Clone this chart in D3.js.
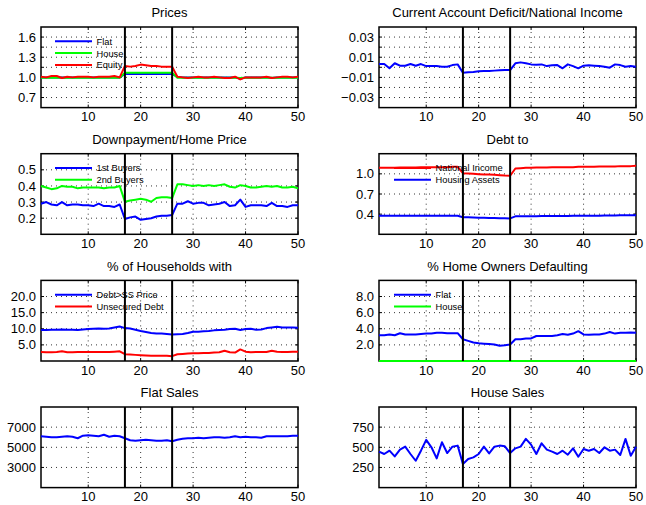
<!DOCTYPE html>
<html><head><meta charset="utf-8">
<script src="https://cdn.jsdelivr.net/npm/d3@7"></script>
<style>body{margin:0;background:#fff}svg{display:block}</style>
</head><body>
<svg id="c" width="646" height="505"></svg>
<script>
// ---------- data ----------
const periods = d3.range(1, 51);
const xTicks = [10, 20, 30, 40, 50];
const shockLines = [17, 26];

const priceFlat = [1.00,1.00,1.00,1.00,1.00,1.00,1.00,1.00,1.00,1.00,1.00,1.00,1.00,1.00,1.00,1.00,
  1.05,1.05,1.05,1.05,1.05,1.05,1.05,1.05,1.05,1.05,
  1.01,1.00,1.00,1.00,1.00,1.00,1.00,1.00,1.00,1.00,1.00,1.00,0.98,1.00,1.00,1.00,1.00,1.00,0.99,1.00,1.00,1.00,1.00,1.00];
const priceHouse = [0.995,0.995,0.995,0.995,0.995,0.995,0.995,0.995,0.995,0.995,0.995,0.995,0.995,0.995,0.995,0.995,
  1.07,1.07,1.07,1.07,1.07,1.07,1.07,1.07,1.07,1.07,
  0.995,0.995,0.995,0.995,0.995,0.995,0.995,0.995,0.995,0.995,0.995,0.995,0.99,0.995,0.995,0.995,0.995,0.995,0.995,0.995,0.995,0.995,0.995,0.995];
const priceEquity = [1.01,1.00,1.02,1.02,0.99,1.01,1.00,1.01,1.01,1.01,1.00,1.01,1.01,1.01,1.02,1.00,
  1.17,1.16,1.17,1.19,1.18,1.17,1.17,1.16,1.16,1.16,
  1.01,1.00,0.99,1.00,1.01,1.00,1.00,1.01,1.00,0.99,0.99,1.01,0.97,1.00,1.00,1.00,1.00,1.01,0.99,1.00,1.01,1.01,1.00,1.01];
const priceTicks = [0.7, 0.85, 1.0, 1.15, 1.3, 1.45, 1.6];
const priceTickLabels = ["0.7", "", "1.0", "", "1.3", "", "1.6"];

const caDeficit = [0.0032,0.0032,-0.0010,0.0040,0.0016,0.0016,0.0032,0.0016,0.0032,0.0012,0.0012,0.0012,0.0006,0.0006,0.0022,0.0029,
  -0.0054,-0.0050,-0.0047,-0.0040,-0.0037,-0.0037,-0.0033,-0.0030,-0.0027,-0.0027,
  0.0040,0.0049,0.0040,0.0029,0.0026,0.0029,0.0012,0.0020,0.0022,-0.0010,0.0029,0.0012,-0.0010,0.0016,0.0020,0.0016,0.0012,0.0006,-0.0004,0.0029,0.0022,0.0006,0.0012,0.0006];
const caTicks = [-0.03, -0.02, -0.01, 0, 0.01, 0.02, 0.03];
const caTickLabels = ["\u22120.03", "", "\u22120.01", "", "0.01", "", "0.03"];

const dpFirst = [0.29,0.30,0.285,0.28,0.30,0.28,0.285,0.285,0.28,0.28,0.275,0.29,0.275,0.275,0.27,0.285,
  0.195,0.205,0.21,0.19,0.195,0.20,0.21,0.215,0.215,0.22,
  0.29,0.29,0.305,0.29,0.295,0.295,0.28,0.285,0.29,0.30,0.275,0.28,0.315,0.27,0.28,0.28,0.28,0.275,0.295,0.275,0.275,0.27,0.28,0.28];
const dpSecond = [0.40,0.39,0.38,0.385,0.40,0.395,0.395,0.385,0.39,0.39,0.39,0.39,0.385,0.39,0.39,0.40,
  0.302,0.31,0.315,0.32,0.315,0.302,0.325,0.33,0.33,0.325,
  0.41,0.41,0.405,0.40,0.405,0.40,0.405,0.40,0.405,0.41,0.395,0.39,0.405,0.40,0.39,0.39,0.395,0.40,0.395,0.40,0.39,0.39,0.395,0.385];
const dpTicks = [0.2, 0.3, 0.4, 0.5];
const dpTickLabels = ["0.2", "0.3", "0.4", "0.5"];

const debtIncome = [1.09,1.09,1.09,1.09,1.095,1.095,1.095,1.095,1.10,1.10,1.10,1.10,1.10,1.10,1.105,1.105,
  1.01,1.005,1.00,0.995,0.99,0.99,0.985,0.98,0.975,0.972,
  1.08,1.085,1.09,1.09,1.095,1.095,1.095,1.10,1.10,1.10,1.10,1.10,1.105,1.105,1.105,1.105,1.11,1.11,1.11,1.11,1.115,1.115,1.115,1.12];
const debtAssets = [0.376,0.376,0.376,0.376,0.376,0.376,0.376,0.376,0.376,0.376,0.376,0.376,0.376,0.376,0.376,0.376,
  0.355,0.352,0.35,0.348,0.346,0.344,0.342,0.34,0.338,0.337,
  0.367,0.368,0.369,0.37,0.37,0.371,0.372,0.372,0.373,0.374,0.374,0.375,0.376,0.376,0.377,0.378,0.378,0.379,0.38,0.381,0.382,0.383,0.384,0.385];
const debtTicks = [0.4, 0.7, 1.0];
const debtTickLabels = ["0.4", "0.7", "1.0"];

const hhDebtSS = [9.6,9.6,9.7,9.7,9.8,9.7,9.7,9.6,9.8,9.9,10.0,10.1,10.0,10.1,10.4,10.7,
  10.2,10.1,9.7,9.3,9.0,8.7,8.5,8.5,8.4,8.2,
  8.3,8.4,8.7,9.1,9.1,9.2,9.3,9.5,9.6,9.7,9.9,10.0,9.6,9.9,10.0,9.7,9.8,10.2,10.4,10.6,10.4,10.4,10.4,10.3];
const hhUnsecured = [2.8,2.7,2.7,2.8,3.0,2.7,2.7,2.8,2.8,2.8,2.8,2.8,2.8,2.8,2.9,3.0,
  2.1,2.0,1.9,1.8,1.7,1.6,1.6,1.6,1.6,1.5,
  2.1,2.2,2.3,2.4,2.4,2.5,2.5,2.6,2.7,3.2,2.7,2.6,3.6,2.9,2.7,2.8,2.8,2.8,3.2,2.9,2.8,2.8,2.9,2.9];
const hhTicks = [5, 10, 15, 20];
const hhTickLabels = ["5.0", "10.0", "15.0", "20.0"];

const defaultFlat = [3.2,3.2,3.3,3.2,3.45,3.3,3.3,3.3,3.35,3.4,3.4,3.5,3.5,3.45,3.45,3.45,
  2.7,2.5,2.3,2.2,2.15,2.1,2.05,1.9,1.95,2.05,
  2.7,2.7,2.8,2.8,3.1,3.1,3.1,3.1,3.2,3.35,3.25,3.4,3.7,3.3,3.25,3.3,3.3,3.4,3.6,3.4,3.5,3.5,3.55,3.5];
const defaultHouse = [0,0,0,0,0,0,0,0,0,0,0,0,0,0,0,0,0,0,0,0,0,0,0,0,0,
  0,0,0,0,0,0,0,0,0,0,0,0,0,0,0,0,0,0,0,0,0,0,0,0,0];
const defTicks = [2, 4, 6, 8];
const defTickLabels = ["2.0", "4.0", "6.0", "8.0"];

const flatSales = [6100,6050,6000,6000,6050,6100,6050,5900,6150,6200,6150,6100,6250,6050,6150,6100,
  5900,5700,5650,5700,5750,5700,5650,5650,5700,5600,
  5750,5850,5900,5900,5950,5900,5950,6000,6000,5950,6000,6100,6000,6050,6000,6000,5950,6100,6100,6100,6100,6100,6150,6150];
const flatSalesTicks = [3000, 5000, 7000];
const flatSalesTickLabels = ["3000", "5000", "7000"];

const houseSales = [446,417,458,387,471,508,417,333,458,592,500,362,562,429,508,521,
  292,354,375,417,508,425,508,521,512,429,
  487,508,604,533,417,550,471,446,417,458,408,487,383,479,458,479,429,500,458,471,404,604,396,508];
const houseSalesTicks = [250, 500, 750];
const houseSalesTickLabels = ["250", "500", "750"];

const BLUE = "#0000ff", GREEN = "#00ff00", RED = "#ff0000";

// ---------- panels ----------
const panels = [
  {col:0,row:0,title:"Prices",domain:[0.55,1.75],ticks:priceTicks,labels:priceTickLabels,legend:true,
   series:[{name:"Flat",v:priceFlat,c:BLUE},{name:"House",v:priceHouse,c:GREEN},{name:"Equity",v:priceEquity,c:RED}]},
  {col:1,row:0,title:"Current Account Deficit/National Income",domain:[-0.04,0.04],ticks:caTicks,labels:caTickLabels,legend:false,
   series:[{name:"CA",v:caDeficit,c:BLUE}]},
  {col:0,row:1,title:"Downpayment/Home Price",domain:[0.1,0.6],ticks:dpTicks,labels:dpTickLabels,legend:true,
   series:[{name:"1st Buyers",v:dpFirst,c:BLUE},{name:"2nd Buyers",v:dpSecond,c:GREEN}]},
  {col:1,row:1,title:"Debt to",domain:[0.1,1.3],ticks:debtTicks,labels:debtTickLabels,legend:true,
   series:[{name:"National Income",v:debtIncome,c:RED},{name:"Housing Assets",v:debtAssets,c:BLUE}]},
  {col:0,row:2,title:"% of Households with",domain:[0,25],ticks:hhTicks,labels:hhTickLabels,legend:true,
   series:[{name:"Debt>SS Price",v:hhDebtSS,c:BLUE},{name:"Unsecured Debt",v:hhUnsecured,c:RED}]},
  {col:1,row:2,title:"% Home Owners Defaulting",domain:[0,10],ticks:defTicks,labels:defTickLabels,legend:true,
   series:[{name:"House",v:defaultHouse,c:GREEN,legendOrder:1},{name:"Flat",v:defaultFlat,c:BLUE,legendOrder:0}]},
  {col:0,row:3,title:"Flat Sales",domain:[1000,9000],ticks:flatSalesTicks,labels:flatSalesTickLabels,legend:false,
   series:[{name:"Flat Sales",v:flatSales,c:BLUE}]},
  {col:1,row:3,title:"House Sales",domain:[0,1000],ticks:houseSalesTicks,labels:houseSalesTickLabels,legend:false,
   series:[{name:"House Sales",v:houseSales,c:BLUE}]}
];

// ---------- layout ----------
const colX = [[41, 298], [379, 636]];
const rowTop = [27, 153.7, 280.4, 407];
const plotH = 80.6;
const FONT = "'Liberation Sans', Arial, Helvetica, sans-serif";

const svg = d3.select("#c").style("font-family", FONT);

panels.forEach(p => {
  const [x0, x1] = colX[p.col];
  const y0 = rowTop[p.row], y1 = y0 + plotH;
  const x = d3.scaleLinear().domain([1, 50]).range([x0, x1]);
  const y = d3.scaleLinear().domain(p.domain).range([y1, y0]);
  const g = svg.append("g");

  // grid
  g.selectAll(".gy").data(p.ticks).join("line")
    .attr("x1", x0).attr("x2", x1).attr("y1", d => y(d)).attr("y2", d => y(d))
    .attr("stroke", "#000").attr("stroke-width", 0.8).attr("stroke-dasharray", "1,4");
  g.selectAll(".gx").data(xTicks.filter(d => d < 50)).join("line")
    .attr("x1", d => x(d)).attr("x2", d => x(d)).attr("y1", y0).attr("y2", y1)
    .attr("stroke", "#000").attr("stroke-width", 0.8).attr("stroke-dasharray", "1,4");

  // frame
  g.append("rect").attr("x", x0).attr("y", y0).attr("width", x1 - x0).attr("height", y1 - y0)
    .attr("fill", "none").attr("stroke", "#000").attr("stroke-width", 1.5);

  // ticks (inward, all four sides)
  const tl = 3;
  p.ticks.forEach(d => {
    g.append("line").attr("x1", x0).attr("x2", x0 + tl).attr("y1", y(d)).attr("y2", y(d)).attr("stroke", "#000");
    g.append("line").attr("x1", x1).attr("x2", x1 - tl).attr("y1", y(d)).attr("y2", y(d)).attr("stroke", "#000");
  });
  xTicks.forEach(d => {
    g.append("line").attr("x1", x(d)).attr("x2", x(d)).attr("y1", y1).attr("y2", y1 - tl).attr("stroke", "#000");
    g.append("line").attr("x1", x(d)).attr("x2", x(d)).attr("y1", y0).attr("y2", y0 + tl).attr("stroke", "#000");
  });

  // data lines
  const line = d3.line().x((d, i) => x(periods[i])).y(d => y(d));
  p.series.forEach(s => {
    g.append("path").datum(s.v).attr("d", line)
      .attr("fill", "none").attr("stroke", s.c).attr("stroke-width", 2)
      .attr("stroke-linejoin", "round");
  });

  // shock lines
  g.selectAll(".sl").data(shockLines).join("line")
    .attr("x1", d => x(d)).attr("x2", d => x(d)).attr("y1", y0).attr("y2", y1)
    .attr("stroke", "#000").attr("stroke-width", 2);

  // tick labels
  g.selectAll(".yl").data(p.ticks).join("text")
    .attr("x", x0 - 5).attr("y", d => y(d) + 4.6)
    .attr("text-anchor", "end").attr("font-size", 13).attr("fill", "#000")
    .text((d, i) => p.labels[i]);
  g.selectAll(".xl").data(xTicks).join("text")
    .attr("x", d => x(d)).attr("y", y1 + 13.5)
    .attr("text-anchor", "middle").attr("font-size", 13).attr("fill", "#000")
    .text(d => d);

  // title
  g.append("text").attr("x", (x0 + x1) / 2).attr("y", y0 - 9.7)
    .attr("text-anchor", "middle").attr("font-size", 13).attr("fill", "#000")
    .text(p.title);

  // legend
  if (p.legend) {
    const lx = p.col === 0 ? x0 + 14 : x0 + 15;
    const items = p.series.slice().sort((a, b) =>
      (a.legendOrder ?? p.series.indexOf(a)) - (b.legendOrder ?? p.series.indexOf(b)));
    items.forEach((s, i) => {
      const ly = y0 + 14.3 + i * 11.8;
      g.append("line").attr("x1", lx).attr("x2", lx + 37).attr("y1", ly).attr("y2", ly)
        .attr("stroke", s.c).attr("stroke-width", 2);
      g.append("text").attr("x", lx + 41.5).attr("y", ly + 3.4)
        .attr("font-size", 9.3).attr("fill", "#000").text(s.name);
    });
  }
});
</script>
</body></html>
